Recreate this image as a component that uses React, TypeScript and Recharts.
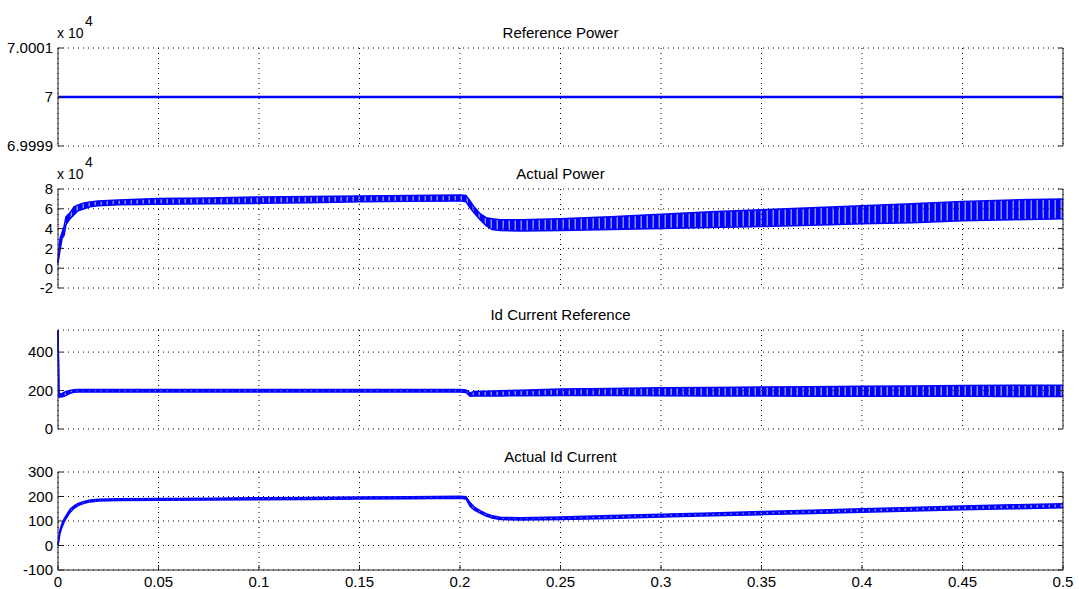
import React from 'react';
import { ComposedChart, Line, Area, XAxis, YAxis, CartesianGrid } from 'recharts';

// sample times (s) shared by the oscillating signals
const time = [
  0, 0.0005, 0.001, 0.002, 0.003, 0.004, 0.006, 0.008, 0.01, 0.013, 0.016, 0.02, 0.03, 0.05,
  0.075, 0.1, 0.125, 0.15, 0.175, 0.2, 0.203, 0.205, 0.207, 0.21, 0.213, 0.216, 0.22, 0.23,
  0.25, 0.275, 0.3, 0.325, 0.35, 0.375, 0.4, 0.425, 0.45, 0.475, 0.5,
];

const refPowerTime = [0, 0.5];
const refPowerValue = [70000, 70000];

// envelope of the oscillation (lower / upper)
const powerLow = [
  5000, 12000, 18000, 30000, 33000, 44000, 50000, 54000, 58000, 60000, 62000, 63000, 64000, 64500,
  65000, 65500, 66000, 67000, 67500, 68000, 67000, 61000, 56000, 49000, 43000, 39000, 38000, 37500,
  38000, 39000, 40000, 41000, 42000, 43500, 45000, 46000, 48000, 49000, 50000,
];
const powerHigh = [
  5000, 20000, 30000, 36000, 42000, 52000, 56000, 62000, 64000, 66000, 67000, 68000, 69000, 70500,
  71000, 72000, 72500, 73000, 73500, 74000, 73500, 68000, 62000, 55000, 51000, 50000, 49000, 49000,
  50000, 52000, 54500, 57000, 59000, 61000, 63000, 65000, 67500, 69000, 70000,
];

const idRefLow = [
  513, 165, 166, 168, 170, 175, 186, 191, 193, 193, 193, 193, 193, 193,
  193, 193, 193, 193, 193, 193, 190, 170, 172, 172, 172, 172, 172, 173,
  174, 174, 173, 172, 172, 171, 171, 170, 170, 169, 169,
];
const idRefHigh = [
  513, 180, 182, 185, 190, 195, 200, 204, 205, 205, 205, 205, 205, 205,
  205, 205, 205, 205, 205, 205, 203, 188, 195, 196, 197, 198, 199, 202,
  208, 211, 214, 216, 219, 220, 222, 224, 226, 227, 228,
];

const idLow = [
  0, 25, 50, 75, 95, 110, 135, 152, 163, 172, 178, 182, 184, 185,
  186, 187, 188, 190, 191, 193, 190, 160, 145, 132, 120, 112, 106, 104,
  106, 110, 116, 121, 126, 131, 136, 141, 146, 150, 154,
];
const idHigh = [
  0, 40, 65, 90, 108, 122, 148, 162, 172, 180, 186, 189, 191, 192,
  193, 195, 196, 198, 199, 201, 199, 175, 158, 142, 130, 122, 115, 113,
  116, 122, 128, 133, 139, 144, 150, 155, 161, 166, 170,
];

const timeTicks = [0, 0.05, 0.1, 0.15, 0.2, 0.25, 0.3, 0.35, 0.4, 0.45, 0.5];
const refPowerTicks = [69999, 70000, 70001];
const powerTicks = [-20000, 0, 20000, 40000, 60000, 80000];
const idRefTicks = [0, 200, 400];
const idTicks = [-100, 0, 100, 200, 300];

const BLUE = '#0000ff';
const FONT = '"Liberation Sans", Arial, Helvetica, sans-serif';
const PAD = 12;

const refData = refPowerTime.map((t, i) => ({ t, v: refPowerValue[i] }));
const powerData = time.map((t, i) => ({ t, range: [powerLow[i], powerHigh[i]] }));
const idRefData = time.map((t, i) => ({ t, range: [idRefLow[i], idRefHigh[i]] }));
const idData = time.map((t, i) => ({ t, range: [idLow[i], idHigh[i]] }));

const noTick = () => <g />;
const e4 = (v: number) => String(v / 10000);

function Panel({ top, h, title, data, domain, ticks, fmt, expo, labels, kind }: any) {
  const height = PAD + h + (labels ? 22 : PAD);
  return (
    <>
      <div
        style={{
          position: 'absolute', left: 58, width: 1005, top: top - 24, textAlign: 'center',
          fontSize: 15, lineHeight: '18px', fontFamily: FONT, color: '#000',
        }}
      >
        {title}
      </div>
      {expo && (
        <>
          <div style={{ position: 'absolute', left: 57, top: top - 23, fontSize: 14, lineHeight: '16px', fontFamily: FONT }}>
            x 10
          </div>
          <div style={{ position: 'absolute', left: 85, top: top - 35, fontSize: 14, lineHeight: '16px', fontFamily: FONT }}>
            4
          </div>
        </>
      )}
      <div style={{ position: 'absolute', left: 0, top: top - PAD }}>
        <ComposedChart
          width={1079}
          height={height}
          data={data}
          margin={{ top: PAD, right: 0, bottom: labels ? 0 : PAD, left: 0 }}
        >
          <defs>
            <pattern id={`osc-${kind}`} width="6" height="4" patternUnits="userSpaceOnUse">
              <rect width="6" height="4" fill={BLUE} fillOpacity={0.45} />
              <rect width="4.5" height="4" fill={BLUE} />
            </pattern>
          </defs>
          <CartesianGrid xAxisId="b" yAxisId="l" stroke="#000" strokeDasharray="1 4" />
          <XAxis
            xAxisId="b" dataKey="t" type="number" domain={[0, 0.5]} ticks={timeTicks} interval={0}
            height={labels ? 22 : 0} tickSize={-5} tickMargin={11} stroke="#222"
            tick={labels ? { fill: '#000', fontSize: 15, fontFamily: FONT } : noTick}
          />
          <XAxis
            xAxisId="top" orientation="top" dataKey="t" type="number" domain={[0, 0.5]} ticks={timeTicks}
            interval={0} height={0} tickSize={-5} stroke="#222" tick={noTick}
          />
          <YAxis
            yAxisId="l" type="number" domain={domain} ticks={ticks} interval={0} width={58}
            tickSize={-5} tickMargin={10} stroke="#222" tickFormatter={fmt}
            tick={{ fill: '#000', fontSize: 15, fontFamily: FONT }} allowDataOverflow
          />
          <YAxis
            yAxisId="r" orientation="right" type="number" domain={domain} ticks={ticks} interval={0}
            width={16} tickSize={-5} stroke="#222" tick={noTick} allowDataOverflow
          />
          {kind === 'line' ? (
            <Line
              xAxisId="b" yAxisId="l" dataKey="v" stroke={BLUE} strokeWidth={2.5} dot={false}
              isAnimationActive={false}
            />
          ) : (
            <Area
              xAxisId="b" yAxisId="l" dataKey="range" type="linear" stroke={BLUE} strokeWidth={1.5}
              fill={`url(#osc-${kind})`} fillOpacity={1} isAnimationActive={false}
            />
          )}
        </ComposedChart>
      </div>
    </>
  );
}

export default function App() {
  return (
    <div style={{ position: 'absolute', left: 0, top: 0, width: 1079, height: 589, background: '#fff', overflow: 'hidden' }}>
      <Panel top={48} h={98} title="Reference Power" data={refData} domain={[69999, 70001]}
        ticks={refPowerTicks} fmt={e4} expo kind="line" />
      <Panel top={189} h={99} title="Actual Power" data={powerData} domain={[-20000, 80000]}
        ticks={powerTicks} fmt={e4} expo kind="p" />
      <Panel top={330} h={99} title="Id Current Reference" data={idRefData} domain={[0, 515]}
        ticks={idRefTicks} kind="r" />
      <Panel top={472} h={98} title="Actual Id Current" data={idData} domain={[-100, 300]}
        ticks={idTicks} labels kind="i" />
    </div>
  );
}
